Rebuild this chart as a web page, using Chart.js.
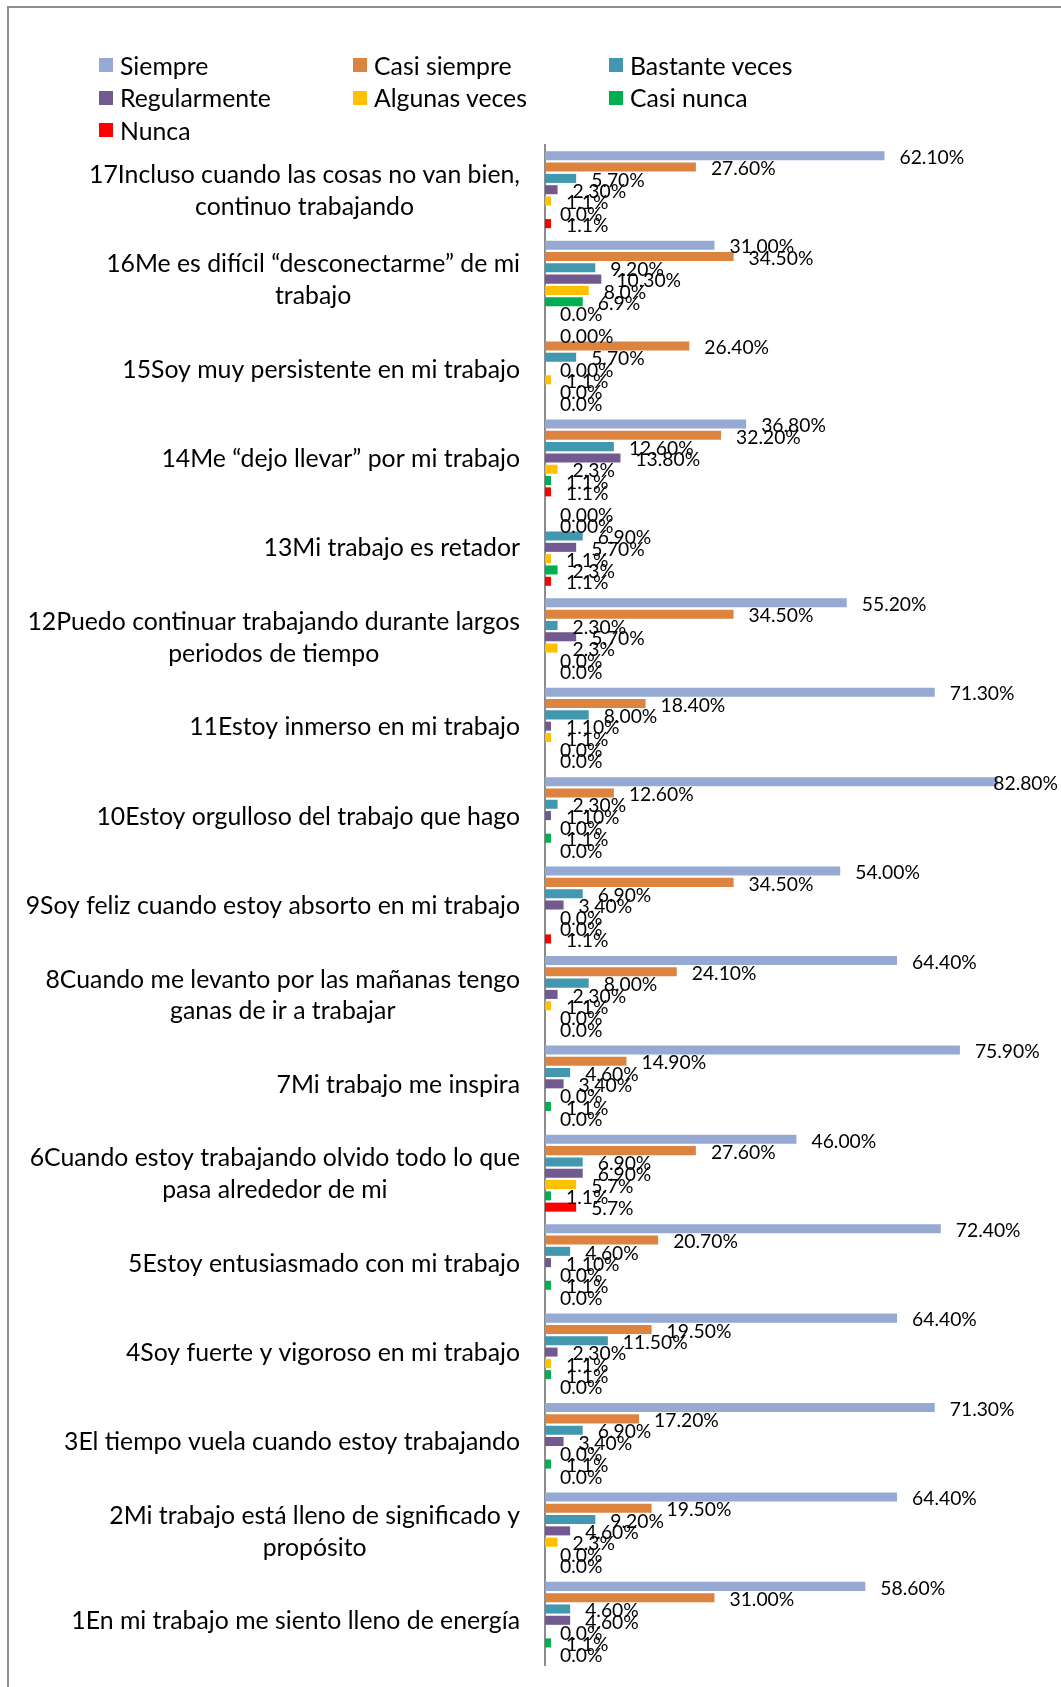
<!DOCTYPE html>
<html lang="es">
<head>
<meta charset="utf-8">
<title>Engagement en el trabajo</title>
<script src="https://cdn.jsdelivr.net/npm/chart.js@4.4.1/dist/chart.umd.min.js"></script>
<style>
  html, body { margin: 0; padding: 0; background: #fff; }
  body { width: 1061px; height: 1687px; position: relative; overflow: hidden; font-family: Lato, sans-serif; }
  .frame { position: absolute; left: 7px; top: 6px; width: 1100px; height: 1720px;
           border-top: 2px solid #8f8f8f; border-left: 2px solid #8f8f8f; }
  #chart { position: absolute; left: 0; top: 0; }
  #legend { position: absolute; left: 99px; top: 49px; display: grid;
            grid-template-columns: 254px 256px 256px; grid-auto-rows: 32.5px; }
  #legend .item { display: flex; align-items: center; font-size: 24.8px; color: #000; white-space: nowrap; }
  #legend .box { width: 14px; height: 14px; margin-right: 7px; flex: none; }
</style>
</head>
<body>
<div class="frame"></div>
<canvas id="chart" width="1061" height="1687"></canvas>
<div id="legend"></div>
<script>
// items, top to bottom
const categories = [
    ['17Incluso cuando las cosas no van bien,', 'continuo trabajando'],
    ['16Me es difícil “desconectarme” de mi', 'trabajo'],
    ['15Soy muy persistente en mi trabajo'],
    ['14Me “dejo llevar” por mi trabajo'],
    ['13Mi trabajo es retador'],
    ['12Puedo continuar trabajando durante largos', 'periodos de tiempo'],
    ['11Estoy inmerso en mi trabajo'],
    ['10Estoy orgulloso del trabajo que hago'],
    ['9Soy feliz cuando estoy absorto en mi trabajo'],
    ['8Cuando me levanto por las mañanas tengo', 'ganas de ir a trabajar'],
    ['7Mi trabajo me inspira'],
    ['6Cuando estoy trabajando olvido todo lo que', 'pasa alrededor de mi'],
    ['5Estoy entusiasmado con mi trabajo'],
    ['4Soy fuerte y vigoroso en mi trabajo'],
    ['3El tiempo vuela cuando estoy trabajando'],
    ['2Mi trabajo está lleno de significado y', 'propósito'],
    ['1En mi trabajo me siento lleno de energía']
];

const seriesNames = ['Siempre', 'Casi siempre', 'Bastante veces', 'Regularmente', 'Algunas veces', 'Casi nunca', 'Nunca'];

const siempre      = [62.1, 31.0, 0, 36.8, 0, 55.2, 71.3, 82.8, 54.0, 64.4, 75.9, 46.0, 72.4, 64.4, 71.3, 64.4, 58.6];
const casiSiempre  = [27.6, 34.5, 26.4, 32.2, 0, 34.5, 18.4, 12.6, 34.5, 24.1, 14.9, 27.6, 20.7, 19.5, 17.2, 19.5, 31.0];
const bastante     = [5.7, 9.2, 5.7, 12.6, 6.9, 2.3, 8.0, 2.3, 6.9, 8.0, 4.6, 6.9, 4.6, 11.5, 6.9, 9.2, 4.6];
const regularmente = [2.3, 10.3, 0, 13.8, 5.7, 5.7, 1.1, 1.1, 3.4, 2.3, 3.4, 6.9, 1.1, 2.3, 3.4, 4.6, 4.6];
const algunas      = [1.1, 8.0, 1.1, 2.3, 1.1, 2.3, 1.1, 0, 0, 1.1, 0, 5.7, 0, 1.1, 0, 2.3, 0];
const casiNunca    = [0, 6.9, 0, 1.1, 2.3, 0, 0, 1.1, 0, 0, 1.1, 1.1, 1.1, 1.1, 1.1, 0, 1.1];
const nunca        = [1.1, 0, 0, 1.1, 1.1, 0, 0, 0, 1.1, 0, 0, 5.7, 0, 0, 0, 0, 0];

// decimals shown in each series' value labels
const labelDecimals = [2, 2, 2, 2, 1, 1, 1];

const seriesValues = [siempre, casiSiempre, bastante, regularmente, algunas, casiNunca, nunca];
const seriesColors = ['#95a9d2', '#dc843f', '#4298ae', '#725a90', '#ffc000', '#00b050', '#ff0000'];

const FONT = 'Lato, "Open Sans", sans-serif';

// value labels to the right of each bar
const valueLabels = {
    id: 'valueLabels',
    afterDatasetsDraw(chart) {
        const ctx = chart.ctx;
        ctx.save();
        ctx.font = '19.3px ' + FONT;
        ctx.fillStyle = '#000';
        ctx.textAlign = 'left';
        ctx.textBaseline = 'middle';
        chart.data.datasets.forEach((ds, di) => {
            const meta = chart.getDatasetMeta(di);
            meta.data.forEach((bar, i) => {
                const text = ds.data[i].toFixed(labelDecimals[di]) + '%';
                const w = ctx.measureText(text).width;
                let x = bar.x + 15;
                if (x + w > chart.width - 3) x = chart.width - 3 - w;
                ctx.fillText(text, x, bar.y + 2);
            });
        });
        ctx.restore();
    }
};

// wrapped item labels: block right-aligned to the axis, lines centred in the block
const itemLabels = {
    id: 'itemLabels',
    afterDraw(chart) {
        const ctx = chart.ctx;
        const yScale = chart.scales.y;
        const right = yScale.right - 25;
        const lineHeight = 31.7;
        ctx.save();
        ctx.font = '24.8px ' + FONT;
        ctx.fillStyle = '#000';
        ctx.textAlign = 'center';
        ctx.textBaseline = 'middle';
        chart.data.labels.forEach((lines, i) => {
            const cy = yScale.getPixelForValue(i) + 1;
            const w = Math.max(...lines.map(l => ctx.measureText(l).width));
            const cx = right - w / 2;
            const top = cy - (lines.length - 1) * lineHeight / 2;
            lines.forEach((l, k) => ctx.fillText(l, cx, top + k * lineHeight));
        });
        ctx.restore();
    }
};

const chart = new Chart(document.getElementById('chart'), {
    type: 'bar',
    data: {
        labels: categories,
        datasets: seriesNames.map((name, i) => ({
            label: name,
            data: seriesValues[i],
            backgroundColor: seriesColors[i],
            borderWidth: 0,
            categoryPercentage: 0.885,
            barPercentage: 0.8
        }))
    },
    options: {
        indexAxis: 'y',
        responsive: false,
        animation: false,
        layout: {
            padding: { left: 0, right: 24, top: 145, bottom: 22 }
        },
        plugins: {
            legend: { display: false },
            tooltip: { enabled: false }
        },
        scales: {
            x: {
                display: false,
                min: 0,
                max: 90
            },
            y: {
                ticks: { display: false },
                grid: { display: true, drawOnChartArea: false, drawTicks: false },
                border: { display: true, color: '#8c8c8c', width: 2 },
                afterFit(scale) { scale.width = 545; }
            }
        }
    },
    plugins: [valueLabels, itemLabels]
});

// legend in three columns, built from the chart's datasets
const legendEl = document.getElementById('legend');
chart.data.datasets.forEach(ds => {
    const item = document.createElement('div');
    item.className = 'item';
    const box = document.createElement('span');
    box.className = 'box';
    box.style.background = ds.backgroundColor;
    item.appendChild(box);
    item.appendChild(document.createTextNode(ds.label));
    legendEl.appendChild(item);
});
</script>
</body>
</html>
